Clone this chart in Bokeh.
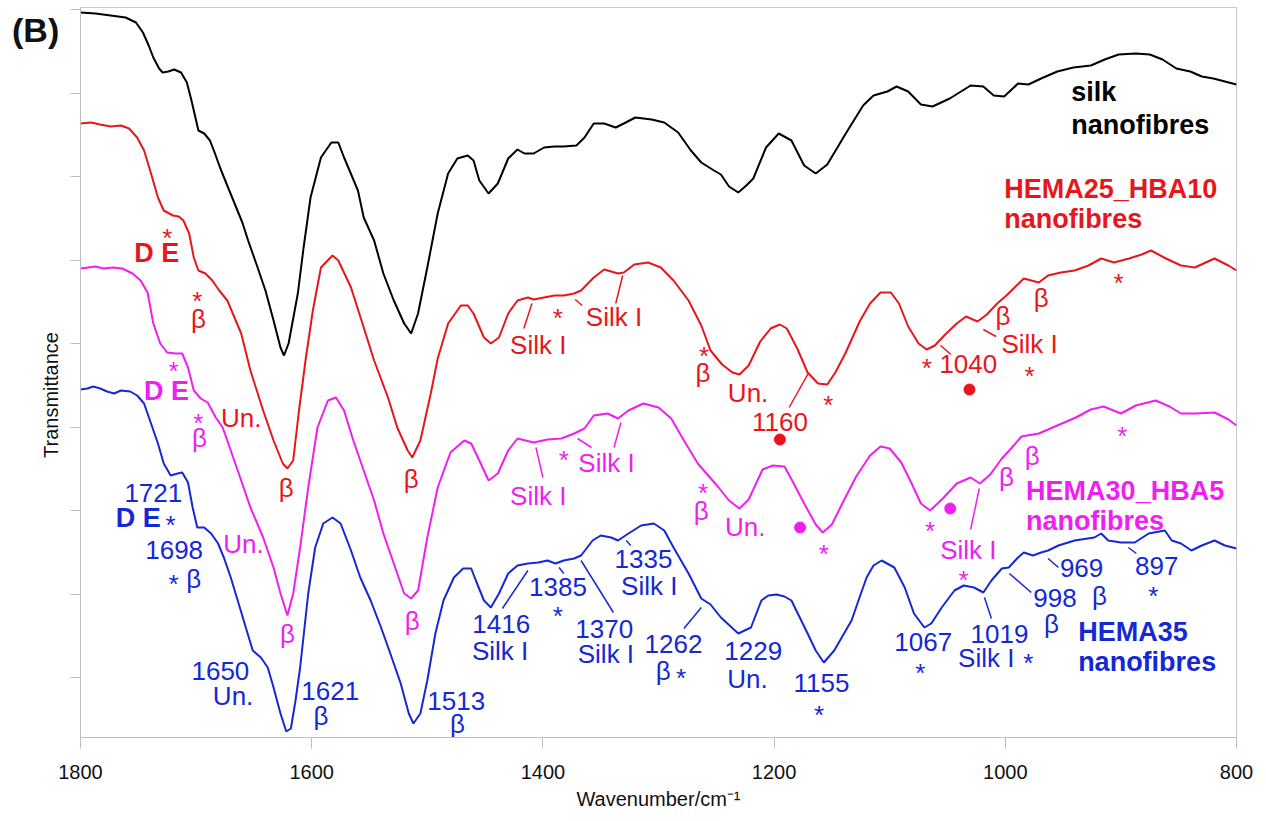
import math
from bokeh.plotting import figure
from bokeh.layouts import column
from bokeh.models import Range1d, FixedTicker, CustomJSTickFormatter, ColumnDataSource, Div
from bokeh.core.properties import value
from bokeh.embed import file_html
from bokeh.resources import INLINE

FONT = "Liberation Sans"

# ---- spectra (wavenumber / cm-1, transmittance in arbitrary offset units) ----
silk_points = [(1800,725),(1787,724),(1774,722),(1761,720),(1752,715),(1746,705),(1741,692),(1737,680),(1732,669),(1729,665),(1724,666),(1719,668),(1713,665),(1708,655),(1704,637),(1700,617),(1698,607),(1693,604),(1688,597),(1684,585),(1679,569),(1672,549),(1666,532),(1660,515),(1655,497),(1648,474),(1640,447),(1633,417),(1627,390),(1624,382),(1620,394),(1612,444),(1607,490),(1601,540),(1592,580),(1583,595),(1577,595),(1572,580),(1560,547),(1555,520),(1546,497),(1538,464),(1529,437),(1520,414),(1514,404),(1508,424),(1500,470),(1491,524),(1482,564),(1474,579),(1465,582),(1460,577),(1455,557),(1447,544),(1439,554),(1430,579),(1422,588),(1416,584),(1408,584),(1399,590),(1390,591),(1382,591),(1371,592),(1364,600),(1356,614),(1347,614),(1337,610),(1330,614),(1320,620),(1306,618),(1295,615),(1283,605),(1272,587),(1263,575),(1252,567),(1246,563),(1239,551),(1231,545),(1224,552),(1218,559),(1207,590),(1196,604),(1185,597),(1174,572),(1164,564),(1154,573),(1138,604),(1123,632),(1114,642),(1102,646),(1094,651),(1084,646),(1073,633),(1063,631),(1048,639),(1030,652),(1019,651),(1010,642),(1001,641),(989,654),(980,653),(969,659),(955,666),(941,670),(926,672),(914,678),(902,683),(887,684),(875,683),(864,678),(852,669),(840,666),(830,661),(820,659),(810,656),(800,653)]

hema25_points = [(1800,614),(1791,615),(1783,613),(1774,611),(1765,612),(1758,609),(1751,600),(1745,587),(1739,564),(1733,540),(1728,527),(1720,522),(1715,521),(1711,517),(1706,504),(1702,480),(1698,467),(1692,464),(1686,457),(1680,447),(1673,437),(1661,404),(1653,367),(1642,327),(1633,297),(1625,274),(1621,269),(1616,277),(1611,327),(1605,380),(1599,427),(1592,470),(1582,482),(1577,477),(1566,450),(1555,410),(1546,377),(1534,340),(1526,310),(1517,287),(1513,280),(1506,297),(1497,344),(1491,379),(1482,414),(1471,432),(1465,432),(1460,424),(1451,400),(1445,394),(1438,400),(1430,424),(1422,437),(1413,440),(1408,438),(1399,440),(1390,442),(1382,442),(1373,444),(1367,447),(1356,460),(1347,468),(1335,464),(1330,465),(1321,473),(1309,475),(1298,470),(1287,457),(1274,437),(1263,412),(1255,387),(1245,373),(1236,365),(1230,363),(1222,372),(1212,396),(1203,409),(1195,413),(1189,409),(1180,389),(1171,365),(1162,354),(1154,353),(1147,365),(1138,385),(1126,416),(1117,434),(1108,445),(1099,445),(1092,434),(1084,411),(1075,394),(1068,388),(1061,392),(1052,403),(1042,414),(1034,421),(1024,416),(1016,423),(1007,434),(999,442),(992,450),(984,459),(971,455),(963,462),(952,465),(940,467),(928,472),(917,479),(906,475),(893,479),(882,483),(874,487),(861,479),(848,472),(836,470),(819,479),(807,472),(800,467)]

hema30_points = [(1800,469),(1787,471),(1780,469),(1772,470),(1764,469),(1755,464),(1748,457),(1742,445),(1737,414),(1731,394),(1725,385),(1718,384),(1712,384),(1707,370),(1702,347),(1696,339),(1690,335),(1683,320),(1677,310),(1670,287),(1661,257),(1653,230),(1642,200),(1633,170),(1627,144),(1621,122),(1616,144),(1610,190),(1603,250),(1595,310),(1586,337),(1579,340),(1572,327),(1564,297),(1555,267),(1546,237),(1538,204),(1529,174),(1520,144),(1514,139),(1508,147),(1500,200),(1491,250),(1480,285),(1468,297),(1462,294),(1455,277),(1447,257),(1439,264),(1430,287),(1422,299),(1408,295),(1396,298),(1384,299),(1373,304),(1364,309),(1356,322),(1344,324),(1335,319),(1326,327),(1313,334),(1300,330),(1289,319),(1278,297),(1266,274),(1257,262),(1248,250),(1239,237),(1230,229),(1222,238),(1210,268),(1201,272),(1191,271),(1183,254),(1174,234),(1164,213),(1158,205),(1150,213),(1141,234),(1129,261),(1117,282),(1108,291),(1100,289),(1090,275),(1081,254),(1073,234),(1065,227),(1054,239),(1042,254),(1030,260),(1022,254),(1013,263),(1003,279),(995,289),(986,301),(971,304),(953,313),(939,320),(926,328),(915,331),(900,324),(887,332),(870,337),(858,331),(848,324),(835,324),(819,325),(807,318),(800,312)]

hema35_points = [(1800,348),(1794,349),(1789,351),(1783,349),(1777,346),(1771,344),(1765,347),(1757,346),(1751,342),(1745,334),(1739,314),(1733,294),(1728,274),(1722,262),(1716,264),(1712,265),(1707,255),(1703,230),(1699,210),(1693,210),(1687,204),(1681,194),(1676,180),(1670,160),(1664,137),(1657,110),(1651,87),(1644,80),(1638,70),(1633,50),(1627,24),(1622,6),(1618,9),(1614,37),(1610,70),(1603,144),(1597,190),(1590,214),(1582,220),(1575,214),(1566,187),(1558,160),(1549,137),(1540,110),(1532,84),(1523,54),(1516,24),(1512,14),(1506,24),(1500,57),(1493,104),(1486,137),(1477,160),(1469,169),(1462,169),(1458,157),(1451,137),(1445,130),(1438,144),(1430,164),(1422,172),(1413,174),(1404,175),(1396,177),(1389,174),(1382,177),(1373,179),(1367,182),(1357,197),(1350,202),(1341,200),(1335,197),(1326,204),(1315,212),(1304,214),(1295,207),(1287,190),(1274,164),(1263,139),(1255,133),(1246,120),(1231,104),(1220,110),(1211,137),(1205,142),(1198,143),(1191,141),(1185,137),(1171,104),(1164,87),(1157,75),(1148,87),(1133,117),(1127,137),(1120,160),(1114,172),(1107,177),(1096,170),(1087,150),(1079,124),(1070,110),(1064,114),(1055,130),(1044,147),(1036,152),(1027,150),(1019,145),(1012,157),(1003,169),(997,170),(989,180),(984,185),(976,182),(969,185),(963,187),(954,192),(940,197),(923,200),(917,204),(911,197),(900,195),(888,195),(876,204),(862,207),(856,197),(848,194),(839,187),(830,192),(819,197),(810,192),(800,189)]

x_tick_values = [1800, 1600, 1400, 1200, 1000, 800]

BLACK = "#000000"
RED = "#e8161b"
MAGENTA = "#f01ef0"
BLUE = "#1428d6"

series = [
    ("silk nanofibres", silk_points, BLACK),
    ("HEMA25_HBA10 nanofibres", hema25_points, RED),
    ("HEMA30_HBA5 nanofibres", hema30_points, MAGENTA),
    ("HEMA35 nanofibres", hema35_points, BLUE),
]

# ---- annotations: (text, wavenumber, level, bold) ----
ann_red = [("D E",1734,485,True),("*",1725,500,False),("*",1699,437,False),("β",1698,419,False),
           ("Un.",1661,320,False),("β",1622,250,False),("β",1514,259,False),("Silk I",1404,393,False),
           ("*",1387,420,False),("Silk I",1338.5,421,False),("*",1260.6,382,False),("β",1261.5,365,False),
           ("Un.",1222.5,345,False),("1160",1195,316,False),("*",1153,333,False),("*",1068,370,False),
           ("1040",1032,374,False),("β",1002,422,False),("Silk I",979,394,False),("*",979,362,False),
           ("β",969,440,False),("*",902,455,False)]
seg_red = [(1416.5,409,1409.5,434),(1372,438,1366,432),(1337,434,1331,462),(1187,330,1170,365),
           (1056,392,1047,383),(1019,408,1008,401)]
dot_red = [(1195,298),(1031,348)]

ann_mag = [("*",1719.5,367,False),("D E",1725.5,347,True),("*",1698,315,False),("β",1697,300,False),
           ("Un.",1659,194,False),("β",1621,104,False),("β",1513,117,False),("Silk I",1404,242,False),
           ("*",1382,278,False),("Silk I",1345,275,False),("*",1261.5,245,False),("β",1263,227,False),
           ("Un.",1225,211,False),("*",1157,184,False),("*",1065,207,False),("Silk I",1032,188,False),
           ("*",1036,158,False),("β",999,261,False),("β",976.6,282,False),("*",898.7,302,False)]
seg_mag = [(1406,290,1400,260),(1370,299,1358,290),(1338.5,290,1332.5,315),(1022.5,249,1030,208)]
dot_mag = [(1177.5,210),(1047.6,229)]

ann_blue = [("1721",1737,245,False),("D E",1750,220,True),("*",1722,213,False),("1698",1719,188,False),
            ("*",1719.5,154,False),("β",1702,159,False),("1650",1679,67,False),("Un.",1668,42,False),
            ("1621",1584,47,False),("β",1592,22,False),("1513",1475,37,False),("β",1474,14,False),
            ("1416",1436,114,False),("Silk I",1437,87,False),("1385",1387,151,False),("*",1387,122,False),
            ("1370",1347,109,False),("Silk I",1345.5,84,False),("1335",1313,179,False),("Silk I",1308,152,False),
            ("1262",1287,94,False),("β",1296,67,False),("*",1280.5,60,False),("1229",1218,87,False),
            ("Un.",1223,59,False),("1155",1159,55,False),("*",1161,23,False),("1067",1071,96,False),
            ("*",1073.6,65,False),("1019",1005,104,False),("Silk I",1016.5,80,False),("*",980,75,False),
            ("998",957,140,False),("β",960,114,False),("969",934,170,False),("β",918.6,142,False),
            ("897",869,172,False),("*",872,142,False)]
seg_blue = [(1435,129,1413,167),(1386,170,1382,164),(1367,177,1339,125),(1328,197,1324,192),
            (1278,109,1263,130),(1018,140,1012,119),(996.5,164,977.5,145),(963,179,954,170),
            (893.5,190,886.6,184)]

names = [(["silk", "nanofibres"], 943, [646, 613], BLACK),
         (["HEMA25_HBA10", "nanofibres"], 1001, [549, 519], RED),
         (["HEMA30_HBA5", "nanofibres"], 982, [247, 217], MAGENTA),
         (["HEMA35", "nanofibres"], 937, [106, 76], BLUE)]

p = figure(width=1266, height=821, output_backend="svg", toolbar_location=None,
           x_range=Range1d(1800, 800), y_range=Range1d(0, 730),
           min_border_left=80, min_border_right=30, min_border_top=7, min_border_bottom=84)
p.xgrid.visible = False
p.ygrid.visible = False
p.outline_line_color = "#c8c8c8"
p.outline_line_width = 1

AX = "#bdbdbd"
xa = p.xaxis[0]
xa.ticker = FixedTicker(ticks=x_tick_values)
xa.major_label_text_font = FONT
xa.major_label_text_font_size = "20px"
xa.major_label_text_color = "#111111"
xa.major_label_standoff = 16
xa.major_tick_out = 11
xa.major_tick_in = 0
xa.minor_tick_out = 0
xa.minor_tick_in = 0
xa.axis_line_color = AX
xa.major_tick_line_color = AX
xa.axis_label = "Wavenumber/cm⁻¹"
xa.axis_label_text_font = FONT
xa.axis_label_text_font_size = "20px"
xa.axis_label_text_font_style = "normal"
xa.axis_label_text_color = "#111111"
xa.axis_label_standoff = 6

ya = p.yaxis[0]
ya.ticker = FixedTicker(ticks=[60 + 83.5 * k for k in range(9)])
ya.formatter = CustomJSTickFormatter(code="return ''")
ya.major_tick_out = 10
ya.major_tick_in = 0
ya.minor_tick_out = 0
ya.minor_tick_in = 0
ya.axis_line_color = AX
ya.major_tick_line_color = AX
ya.major_label_text_font_size = "1px"
ya.major_label_standoff = 0

for name, pts, col in series:
    xs = [a for a, b in pts]
    ys = [b for a, b in pts]
    p.line(xs, ys, line_color=col, line_width=2)

def add_ann(anns, col):
    for bold in (False, True):
        sel = [a for a in anns if a[3] == bold]
        if not sel:
            continue
        src = ColumnDataSource(dict(x=[a[1] for a in sel], y=[a[2] for a in sel], t=[a[0] for a in sel]))
        p.text(x="x", y="y", text="t", source=src, text_color=col, text_font=value(FONT),
               text_font_size="27px" if bold else "26px",
               text_font_style="bold" if bold else "normal",
               text_align="center", text_baseline="middle")

for anns, segs, col in ((ann_red, seg_red, RED), (ann_mag, seg_mag, MAGENTA), (ann_blue, seg_blue, BLUE)):
    add_ann(anns, col)
    p.segment(x0=[s[0] for s in segs], y0=[s[1] for s in segs], x1=[s[2] for s in segs],
              y1=[s[3] for s in segs], line_color=col, line_width=1.5)

for dots, col in ((dot_red, RED), (dot_mag, MAGENTA)):
    p.scatter(x=[d[0] for d in dots], y=[d[1] for d in dots], size=11, color=col)

for lines, x0, ys, col in names:
    p.text(x=[x0] * len(lines), y=ys, text=lines, text_color=col, text_font=value(FONT),
           text_font_size="27px", text_font_style="bold", text_align="left", text_baseline="middle")

panel_label = Div(text="(B)", width=60, height=40,
                  styles={"position": "absolute", "left": "7px", "top": "8px", "z-index": "10",
                          "font-family": "Liberation Sans", "font-size": "34px", "font-weight": "bold",
                          "color": "#111111", "line-height": "1"})

y_title = Div(text="Transmittance", width=150, height=24,
              styles={"position": "absolute", "left": "-29px", "top": "378px", "z-index": "10",
                      "font-family": "Liberation Sans", "font-size": "20px", "color": "#111111",
                      "line-height": "24px", "text-align": "center",
                      "transform": "rotate(-90deg)", "transform-origin": "50% 50%"})

layout = column(p, panel_label, y_title)
open("out.html", "w").write(file_html(layout, INLINE))
